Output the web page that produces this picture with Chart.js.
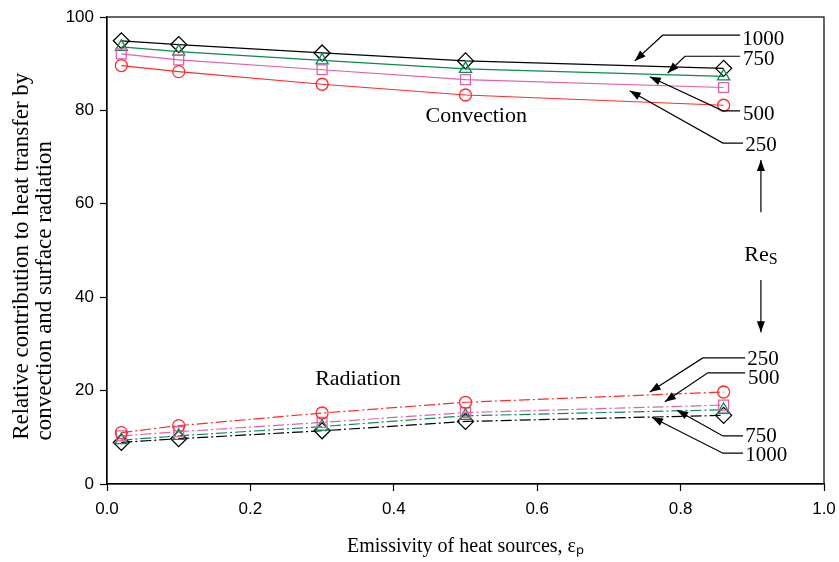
<!DOCTYPE html>
<html lang="en">
<head>
  <meta charset="UTF-8">
  <title>Relative contribution to heat transfer</title>
  <script src="https://cdn.jsdelivr.net/npm/chart.js@4.4.1/dist/chart.umd.min.js"></script>
  <style>
    html, body { margin: 0; padding: 0; background: #fff; }
    #wrap { width: 839px; height: 562px; }
  </style>
</head>
<body>
  <div id="wrap"><canvas id="heat-chart" width="839" height="562"></canvas></div>

  <script>
    // emissivity of the heat sources (x)
    const emissivity = [0.02, 0.1, 0.3, 0.5, 0.86];
    const reynolds = ['250', '500', '750', '1000'];

    // relative contribution in %
    const convection250  = [89.6, 88.3, 85.6, 83.3, 81.1];
    const convection500  = [92.1, 90.8, 88.7, 86.6, 84.9];
    const convection750  = [93.6, 92.6, 90.7, 88.9, 87.3];
    const convection1000 = [94.9, 94.1, 92.3, 90.6, 89.0];

    const radiation250  = [11.0, 12.5, 15.2, 17.5, 19.7];
    const radiation500  = [10.3, 11.2, 13.2, 15.3, 16.9];
    const radiation750  = [9.4, 10.3, 12.3, 14.6, 15.9];
    const radiation1000 = [8.9, 9.7, 11.4, 13.4, 14.7];

    const SERIF = '"Liberation Serif", "Times New Roman", serif';
    const SANS = '"Liberation Sans", Arial, sans-serif';

    const styles = {
      '250':  { color: '#ff2b2b', point: 'circle',   radius: 6 },
      '500':  { color: '#e060b0', point: 'rect',     radius: 7 },
      '750':  { color: '#0b8a4c', point: 'triangle', radius: 7 },
      '1000': { color: '#000000', point: 'rectRot',  radius: 8 }
    };

    const convection = [convection250, convection500, convection750, convection1000];
    const radiation = [radiation250, radiation500, radiation750, radiation1000];

    function makeSet(kind, re, values, dashed) {
      const s = styles[re];
      return {
        label: kind + ' Re=' + re,
        data: emissivity.map((x, i) => ({ x: x, y: values[i] })),
        borderColor: s.color,
        borderWidth: 1.2,
        borderDash: dashed ? [11, 3, 2, 3] : [],
        pointStyle: s.point,
        pointRadius: s.radius,
        pointHoverRadius: s.radius,
        pointBorderColor: s.color,
        pointBorderWidth: 1.3,
        pointBackgroundColor: 'rgba(0,0,0,0)',
        tension: 0
      };
    }

    const datasets = [];
    reynolds.forEach((re, i) => datasets.push(makeSet('Convection', re, convection[i], false)));
    reynolds.forEach((re, i) => datasets.push(makeSet('Radiation', re, radiation[i], true)));

    // text and leader arrows, placed in data units
    const notes = [
      { text: 'Convection', at: [0.515, 78.8], align: 'center' },
      { text: 'Radiation', at: [0.35, 22.5], align: 'center' }
    ];
    const leaders = [
      { text: '1000', tip: [0.736, 90.6], elbow: [0.775, 96.1], end: [0.883, 96.1], at: [0.886, 95.1] },
      { text: '750',  tip: [0.782, 88.0], elbow: [0.806, 91.6], end: [0.883, 91.6], at: [0.887, 90.8] },
      { text: '500',  tip: [0.757, 87.2], elbow: [0.859, 79.9], end: [0.883, 79.9], at: [0.887, 79.2] },
      { text: '250',  tip: [0.729, 84.2], elbow: [0.859, 73.0], end: [0.887, 73.0], at: [0.890, 72.4] },
      { text: '250',  tip: [0.757, 19.7], elbow: [0.831, 27.0], end: [0.890, 27.0], at: [0.893, 26.6] },
      { text: '500',  tip: [0.778, 17.6], elbow: [0.838, 23.8], end: [0.890, 23.8], at: [0.894, 22.7] },
      { text: '750',  tip: [0.795, 15.8], elbow: [0.859, 10.3], end: [0.887, 10.3], at: [0.890, 10.1] },
      { text: '1000', tip: [0.760, 14.3], elbow: [0.859, 6.6],  end: [0.887, 6.6],  at: [0.890, 6.2] }
    ];
    const resNote = { at: [0.912, 49.0], up: [58.2, 69.4], down: [43.7, 32.5] };

    function arrowHead(ctx, fx, fy, tx, ty) {
      const a = Math.atan2(ty - fy, tx - fx);
      const len = 11, half = 4;
      ctx.beginPath();
      ctx.moveTo(tx, ty);
      ctx.lineTo(tx - len * Math.cos(a) + half * Math.sin(a), ty - len * Math.sin(a) - half * Math.cos(a));
      ctx.lineTo(tx - len * Math.cos(a) - half * Math.sin(a), ty - len * Math.sin(a) + half * Math.cos(a));
      ctx.closePath();
      ctx.fill();
    }

    const annotate = {
      id: 'annotate',
      afterDatasetsDraw(chart) {
        const ctx = chart.ctx;
        const xs = chart.scales.x, ys = chart.scales.y;
        const px = v => xs.getPixelForValue(v);
        const py = v => ys.getPixelForValue(v);
        const area = chart.chartArea;

        ctx.save();
        // frame
        ctx.strokeStyle = '#000';
        ctx.lineWidth = 1.2;
        ctx.strokeRect(area.left, area.top, area.right - area.left, area.bottom - area.top);

        ctx.fillStyle = '#000';
        ctx.textBaseline = 'middle';
        ctx.font = '22px ' + SERIF;
        notes.forEach(n => {
          ctx.textAlign = n.align;
          ctx.fillText(n.text, px(n.at[0]), py(n.at[1]));
        });

        ctx.font = '21px ' + SERIF;
        ctx.lineWidth = 1.2;
        leaders.forEach(l => {
          const tx = px(l.tip[0]), ty = py(l.tip[1]);
          const ex = px(l.elbow[0]), ey = py(l.elbow[1]);
          ctx.beginPath();
          ctx.moveTo(px(l.end[0]), py(l.end[1]));
          ctx.lineTo(ex, ey);
          ctx.lineTo(tx, ty);
          ctx.stroke();
          arrowHead(ctx, ex, ey, tx, ty);
          ctx.textAlign = 'left';
          ctx.fillText(l.text, px(l.at[0]), py(l.at[1]));
        });

        // Re_S with arrows
        const rx = px(resNote.at[0]), ry = py(resNote.at[1]);
        ctx.font = '22px ' + SERIF;
        const w1 = ctx.measureText('Re').width;
        ctx.font = '16px ' + SERIF;
        const w2 = ctx.measureText('S').width;
        const left = rx - (w1 + w2) / 2;
        ctx.textAlign = 'left';
        ctx.font = '22px ' + SERIF;
        ctx.fillText('Re', left, ry);
        ctx.font = '16px ' + SERIF;
        ctx.fillText('S', left + w1, ry + 5);

        [resNote.up, resNote.down].forEach(seg => {
          const y0 = py(seg[0]), y1 = py(seg[1]);
          ctx.beginPath();
          ctx.moveTo(rx, y0);
          ctx.lineTo(rx, y1);
          ctx.stroke();
          arrowHead(ctx, rx, y0, rx, y1);
        });
        ctx.restore();
      }
    };

    new Chart(document.getElementById('heat-chart'), {
      type: 'line',
      data: { datasets: datasets },
      plugins: [annotate],
      options: {
        responsive: false,
        animation: false,
        events: [],
        layout: { padding: { left: 0, right: 15, top: 17, bottom: 0 } },
        plugins: { legend: { display: false }, tooltip: { enabled: false } },
        scales: {
          x: {
            type: 'linear',
            min: 0, max: 1,
            afterFit: s => { s.height = 78; s.paddingLeft = 0; s.paddingRight = 0; },
            border: { display: true, color: '#000', width: 1.2 },
            grid: { drawOnChartArea: false, drawTicks: true, tickLength: 7, color: '#000', tickWidth: 1.2 },
            ticks: {
              stepSize: 0.2, padding: 8, color: '#000',
              font: { family: SANS, size: 17 },
              callback: v => Number(v).toFixed(1)
            },
            title: {
              display: true,
              text: 'Emissivity of heat sources, εₚ',
              color: '#000',
              font: { family: SERIF, size: 20 },
              padding: { top: 0, bottom: 3 }
            }
          },
          y: {
            min: 0, max: 100,
            afterFit: s => { s.width = 107; },
            border: { display: true, color: '#000', width: 1.2 },
            grid: { drawOnChartArea: false, drawTicks: true, tickLength: 7, color: '#000', tickWidth: 1.2 },
            ticks: { stepSize: 20, padding: 6, color: '#000', font: { family: SANS, size: 17 } },
            title: {
              display: true,
              // trailing spaces keep both lines starting near the bottom, as in the figure
              text: ['Relative contribution to heat transfer by  ',
                     'convection and surface radiation              '],
              color: '#000',
              font: { family: SERIF, size: 23, lineHeight: 1 },
              padding: { top: 10.5, bottom: 0 }
            }
          }
        }
      }
    });
  </script>
</body>
</html>
